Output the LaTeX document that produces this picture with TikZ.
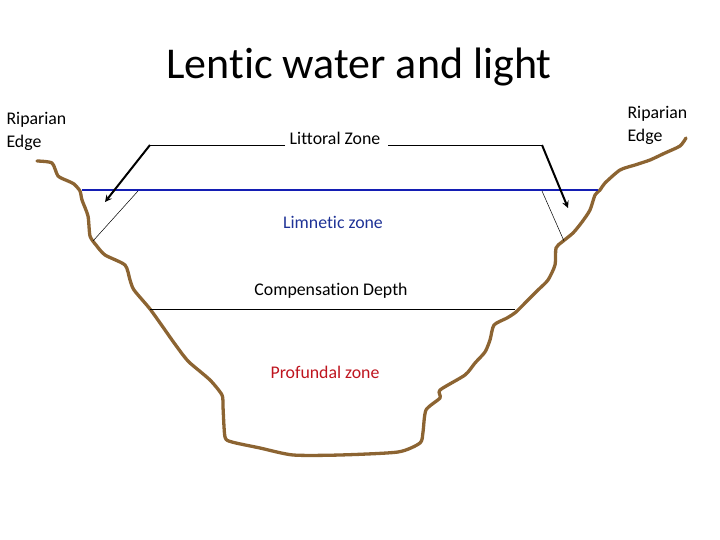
\documentclass[tikz,border=0pt]{standalone}
\usepackage{fontspec}
\setmainfont[Ligatures=NoCommon]{Carlito}
\begin{document}
\begin{tikzpicture}[x=1pt,y=-1pt,
  shore/.style={draw={rgb,255:red,140;green,100;blue,50},line width=3.3pt,line join=round,line cap=round},
  thin/.style={draw=black,line width=0.7pt},
  arr/.style={draw=black,line width=2pt,-stealth},
  sm/.style={font=\fontsize{17.8}{22}\selectfont},
  lbl/.style={font=\fontsize{17.8}{23}\selectfont,align=left}]
\useasboundingbox (0,0) rectangle (720,540);
\node[font=\fontsize{44}{50}\selectfont] (title) at (359,67) {Lentic water and light};
\node[lbl,anchor=west] (rl) at (3,131) {Riparian\\Edge};
\node[lbl,anchor=west] (rr) at (624,125) {Riparian\\Edge};
\draw[shore] plot[smooth,tension=0.4] coordinates {(37,161)(52,163)(58,176)(68,181)(74,184)(80,191)(82,200)(88,216)(90,236)(96,245)(105,255)(125,265)(130,280)(134,290)(150,309)(165,330)(172,340)(183,355)(190,363)(210,380)(222,395)(223,407)(225,437)(232,442)(260,448)(293,455)(340,455)(398,452)(420,443)(423,432)(426,410)(440,398)(440,390)(465,375)(475,363)(485,352)(490,340)(494,325)(507,318)(516,312)(528,300)(538,290)(548,280)(555,265)(556,248)(562,242)(573,233)(582,222)(590,210)(595,195)(600,190)(605,183)(620,170)(635,165)(650,160)(665,153)(680,146)(686,138)};
\coordinate (wl) at (82,190); \coordinate (wr) at (598,190);
\draw[draw={rgb,255:red,20;green,30;blue,180},line width=2pt] (wl) -- (wr);
\node[sm] (lit) at (335,138) {Littoral Zone};
\coordinate (l1) at (150,145); \coordinate (l2) at (285,145);
\coordinate (r1) at (388,145); \coordinate (r2) at (542,145);
\coordinate (la) at (105,202); \coordinate (ra) at (568,208);
\draw[thin] (l2) -- (l1); \draw[thin] (r1) -- (r2);
\draw[arr] (l1) -- (la); \draw[arr] (r2) -- (ra);
\coordinate (t1) at (138,191); \coordinate (t2) at (93,241);
\coordinate (t3) at (542,191); \coordinate (t4) at (564,241);
\draw[thin,line width=0.5pt] (t1) -- (t2); \draw[thin,line width=0.5pt] (t3) -- (t4);
\node[sm,text={rgb,255:red,30;green,50;blue,150}] (lim) at (333,222) {Limnetic zone};
\node[sm] (comp) at (331,291) {Compensation Depth};
\coordinate (c1) at (150,309); \coordinate (c2) at (515,309);
\draw[thin] (c1) -- (c2);
\node[sm,text={rgb,255:red,190;green,20;blue,30}] (pro) at (325,372) {Profundal zone};
\end{tikzpicture}
\end{document}
